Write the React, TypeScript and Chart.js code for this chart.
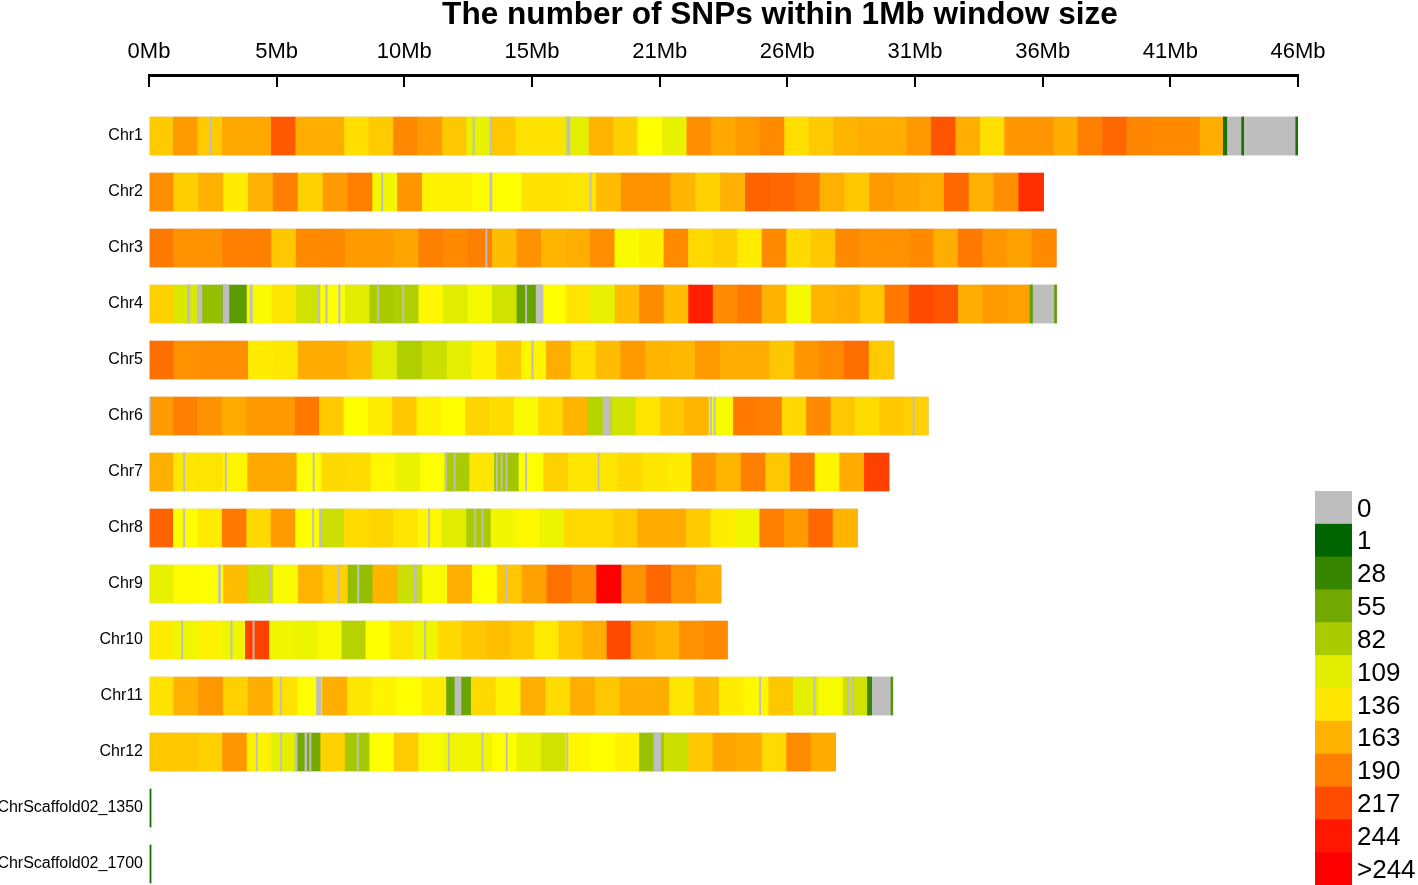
import React, { useEffect, useRef } from 'react';
import { Chart, registerables } from 'chart.js';

Chart.register(...registerables);

const TITLE = 'The number of SNPs within 1Mb window size';

const CHR_NAMES = [
  'Chr1', 'Chr2', 'Chr3', 'Chr4', 'Chr5', 'Chr6', 'Chr7', 'Chr8', 'Chr9', 'Chr10', 'Chr11', 'Chr12',
  'ChrScaffold02_1350', 'ChrScaffold02_1700',
];

// chromosome lengths (Mb)
const CHR_LENGTHS_MB = [46.3, 36.05, 36.56, 36.57, 30.02, 31.4, 29.82, 28.55, 23.05, 23.31, 29.97, 27.67, 0.08, 0.08];

// SNP count per window (bins span the chromosome evenly)
const CHR1_COUNTS = [150, 175, 150, 168, 168, 210, 165, 165, 140, 150, 185, 175, 152, 112, 152, 138, 138, 110, 162, 148, 123, 112, 182, 168, 175, 184, 140, 150, 162, 165, 165, 177, 212, 165, 140, 178, 178, 167, 189, 202, 186, 184, 184, 165, 0, 0, 0];
const CHR2_COUNTS = [182, 148, 164, 133, 164, 189, 147, 175, 189, 117, 178, 130, 130, 125, 122, 138, 138, 136, 158, 180, 180, 161, 147, 164, 205, 202, 193, 164, 152, 175, 170, 165, 202, 164, 182, 232];
const CHR3_COUNTS = [193, 180, 180, 189, 189, 152, 184, 184, 175, 175, 170, 190, 184, 190, 158, 180, 162, 166, 182, 120, 131, 184, 143, 148, 133, 184, 143, 152, 184, 180, 180, 184, 166, 193, 178, 172, 184];
const CHR4_COUNTS = [147, 105, 72, 45, 120, 136, 100, 122, 108, 82, 85, 127, 108, 118, 100, 50, 123, 137, 112, 158, 183, 158, 240, 183, 193, 163, 118, 162, 165, 152, 193, 218, 212, 165, 175, 172, 0];
const CHR5_COUNTS = [198, 180, 182, 182, 133, 135, 167, 167, 158, 108, 85, 98, 110, 130, 150, 128, 165, 140, 158, 175, 162, 160, 175, 166, 166, 152, 178, 184, 198, 150];
const CHR6_COUNTS = [175, 190, 180, 167, 176, 176, 193, 150, 123, 133, 152, 130, 123, 145, 141, 119, 143, 162, 88, 100, 136, 152, 162, 120, 193, 189, 143, 184, 152, 141, 152, 147];
const CHR7_COUNTS = [164, 136, 137, 128, 168, 168, 122, 143, 141, 127, 113, 122, 82, 136, 78, 122, 147, 136, 136, 143, 136, 133, 178, 162, 189, 152, 193, 128, 167, 222];
const CHR8_COUNTS = [205, 122, 134, 193, 143, 175, 122, 98, 141, 145, 136, 127, 108, 82, 116, 127, 114, 143, 143, 150, 167, 167, 150, 133, 116, 190, 175, 202, 162];
const CHR9_COUNTS = [112, 125, 122, 158, 98, 119, 162, 147, 72, 162, 98, 119, 165, 123, 152, 172, 197, 183, 256, 180, 202, 180, 165];
const CHR10_COUNTS = [133, 116, 130, 116, 222, 116, 114, 119, 88, 123, 136, 116, 143, 152, 157, 150, 134, 152, 165, 218, 170, 162, 180, 184];
const CHR11_COUNTS = [138, 164, 177, 147, 166, 138, 122, 165, 136, 129, 123, 133, 52, 143, 130, 165, 141, 165, 152, 165, 165, 136, 158, 133, 127, 152, 110, 119, 100, 0];
const CHR12_COUNTS = [152, 152, 147, 178, 130, 110, 55, 147, 80, 123, 150, 119, 116, 116, 123, 112, 100, 127, 123, 130, 75, 98, 152, 170, 167, 143, 183, 167];
const SCAFFOLD1350_COUNTS = [10];
const SCAFFOLD1700_COUNTS = [10];

const CHR_COUNTS = [
  CHR1_COUNTS, CHR2_COUNTS, CHR3_COUNTS, CHR4_COUNTS, CHR5_COUNTS, CHR6_COUNTS, CHR7_COUNTS,
  CHR8_COUNTS, CHR9_COUNTS, CHR10_COUNTS, CHR11_COUNTS, CHR12_COUNTS, SCAFFOLD1350_COUNTS, SCAFFOLD1700_COUNTS,
];

// isolated SNPs inside empty windows
const MARK_CHR = [0, 0, 0, 3, 3, 10, 10];
const MARK_START_MB = [43.29, 44.03, 46.21, 35.5, 36.49, 28.95, 29.9];
const MARK_WIDTH_MB = [0.14, 0.08, 0.09, 0.1, 0.08, 0.17, 0.07];
const MARK_COUNTS = [12, 12, 12, 48, 48, 28, 40];

// stretches without SNPs (grey background shows through)
const GAP_CHR = [
  0, 0, 0, 0,
  1, 1, 1,
  2,
  3, 3, 3, 3, 3, 3, 3, 3, 3, 3, 3,
  4,
  5, 5, 5, 5, 5,
  6, 6, 6, 6, 6, 6, 6, 6, 6, 6,
  7, 7, 7, 7, 7, 7,
  8, 8, 8, 8, 8, 8,
  9, 9, 9, 9,
  10, 10, 10, 10, 10, 10, 10,
  11, 11, 11, 11, 11, 11, 11, 11, 11, 11, 11,
];
const GAP_START_MB = [
  2.47, 13.06, 13.74, 16.84,
  9.37, 13.74, 17.77,
  13.57,
  1.55, 1.98, 2.98, 4.08, 6.81, 7.12, 7.64, 9.2, 10.22, 15.17, 15.6,
  15.42,
  0.0, 18.3, 22.62, 22.77, 30.79,
  1.39, 3.07, 6.61, 11.94, 12.29, 14.0, 14.18, 14.38, 15.17, 18.09,
  1.39, 6.59, 6.87, 11.26, 13.12, 13.41,
  2.8, 4.88, 7.62, 8.4, 10.69, 14.37,
  1.31, 3.3, 4.19, 11.1,
  5.3, 6.75, 12.33, 24.6, 26.79, 28.15, 28.35,
  4.32, 5.3, 5.89, 6.28, 6.47, 8.39, 12.06, 13.41, 14.39, 16.83, 20.34,
];
const GAP_WIDTH_MB = [
  0.05, 0.05, 0.05, 0.12,
  0.05, 0.08, 0.05,
  0.05,
  0.1, 0.15, 0.24, 0.08, 0.06, 0.06, 0.06, 0.05, 0.05, 0.05, 0.28,
  0.06,
  0.06, 0.28, 0.05, 0.05, 0.05,
  0.05, 0.05, 0.05, 0.05, 0.05, 0.05, 0.05, 0.05, 0.05, 0.05,
  0.05, 0.05, 0.1, 0.05, 0.05, 0.05,
  0.08, 0.05, 0.05, 0.06, 0.08, 0.05,
  0.05, 0.05, 0.05, 0.05,
  0.05, 0.19, 0.24, 0.05, 0.05, 0.05, 0.05,
  0.05, 0.05, 0.08, 0.08, 0.06, 0.05, 0.05, 0.05, 0.05, 0.05, 0.29,
];

const X_MAX_MB = 46.3;
const X_TICKS_MB = [0, 5.144, 10.289, 15.433, 20.578, 25.722, 30.867, 36.011, 41.156, 46.3];

const LEGEND_LABELS = ['0', '1', '28', '55', '82', '109', '136', '163', '190', '217', '244', '>244'];
const LEGEND_VALUES = [0, 1, 28, 55, 82, 109, 136, 163, 190, 217, 244, 256];

const GRAY = '#BEBEBE';
const FONT = '"Liberation Sans", Arial, Helvetica, sans-serif';

function snpColor(v: number): string {
  if (!v || v <= 0) return GRAY;
  const Y = 123;
  const R = 256;
  let r: number;
  let g: number;
  if (v <= Y) {
    const t = Math.max(0, (v - 1) / (Y - 1));
    r = 255 * t;
    g = 100 + 155 * t;
  } else {
    const s = Math.min(1, (v - Y) / (R - Y));
    r = 255;
    g = 255 * (1 - s);
  }
  return `rgb(${Math.round(r)},${Math.round(g)},0)`;
}

const titlePlugin = {
  id: 'snpTitle',
  afterDraw(chart: any) {
    const { ctx } = chart;
    ctx.save();
    ctx.font = `bold 31.6px ${FONT}`;
    ctx.fillStyle = '#000';
    ctx.textAlign = 'center';
    ctx.textBaseline = 'alphabetic';
    ctx.fillText(TITLE, 780, 24);
    ctx.restore();
  },
};

const legendPlugin = {
  id: 'snpLegend',
  afterDraw(chart: any) {
    const { ctx, chartArea } = chart;
    const x0 = chartArea.right + 17;
    const top = 491;
    const h = 32.83;
    ctx.save();
    LEGEND_VALUES.forEach((v, i) => {
      ctx.fillStyle = snpColor(v);
      ctx.fillRect(x0, top + i * h, 37, h + 0.6);
    });
    ctx.fillStyle = '#000';
    ctx.font = `26px ${FONT}`;
    ctx.textAlign = 'left';
    ctx.textBaseline = 'middle';
    LEGEND_LABELS.forEach((lab, i) => {
      ctx.fillText(lab, x0 + 42, top + i * h + h / 2 + 2);
    });
    ctx.restore();
  },
};

export default function App() {
  const canvasRef = useRef<HTMLCanvasElement | null>(null);

  useEffect(() => {
    const canvas = canvasRef.current;
    if (!canvas) return;

    const bodyData = CHR_NAMES.map((_, i) => ({ x: [0, CHR_LENGTHS_MB[i]], y: i, v: 0 }));
    const binData: any[] = [];
    CHR_COUNTS.forEach((counts, i) => {
      const w = CHR_LENGTHS_MB[i] / counts.length;
      counts.forEach((v, k) => {
        binData.push({ x: [k * w, (k + 1) * w], y: i, v });
      });
    });
    const gapData = GAP_CHR.map((c, j) => ({
      x: [GAP_START_MB[j], GAP_START_MB[j] + GAP_WIDTH_MB[j]],
      y: c,
      v: 0,
    }));
    const markData = MARK_CHR.map((c, j) => ({
      x: [MARK_START_MB[j], MARK_START_MB[j] + MARK_WIDTH_MB[j]],
      y: c,
      v: MARK_COUNTS[j],
    }));

    const colorFn = (ctx: any) => snpColor(ctx.raw ? ctx.raw.v : 0);

    const chart = new Chart(canvas, {
      type: 'bar',
      data: {
        datasets: [
          { label: 'marks', data: markData as any, backgroundColor: colorFn, order: 0 },
          { label: 'gaps', data: gapData as any, backgroundColor: GRAY, order: 1 },
          { label: 'bins', data: binData as any, backgroundColor: colorFn, order: 2 },
          { label: 'body', data: bodyData as any, backgroundColor: GRAY, order: 3 },
        ],
      },
      options: {
        indexAxis: 'y',
        animation: false,
        responsive: false,
        maintainAspectRatio: false,
        datasets: {
          bar: { grouped: false, barThickness: 38, borderWidth: 0 },
        },
        layout: { padding: { left: 0, right: 120, top: 0, bottom: 0 } },
        plugins: {
          legend: { display: false },
          tooltip: { enabled: false },
          title: { display: false },
        },
        scales: {
          x: {
            type: 'linear',
            position: 'top',
            min: 0,
            max: X_MAX_MB,
            offset: false,
            afterBuildTicks: (s: any) => {
              s.ticks = X_TICKS_MB.map((v) => ({ value: v }));
            },
            afterFit: (s: any) => {
              s.height = 75;
            },
            ticks: {
              autoSkip: false,
              maxRotation: 0,
              color: '#000',
              padding: 22,
              font: { family: FONT, size: 22 },
              callback: (v: any) => `${Math.round(Number(v))}Mb`,
            },
            grid: {
              display: true,
              drawOnChartArea: false,
              drawTicks: true,
              tickLength: -12,
              color: '#000',
              lineWidth: 2,
              tickColor: '#000',
              tickWidth: 2,
            },
            border: { display: true, color: '#000', width: 3 },
          },
          y: {
            type: 'linear',
            reverse: true,
            offset: false,
            grace: 0,
            min: -1.0893,
            max: 13.375,
            afterBuildTicks: (s: any) => {
              s.ticks = CHR_NAMES.map((_, i) => ({ value: i }));
            },
            afterFit: (s: any) => {
              s.width = 149;
              s.paddingTop = 0;
              s.paddingBottom = 0;
            },
            ticks: {
              autoSkip: false,
              color: '#000',
              padding: 6,
              font: { family: FONT, size: 16 },
              callback: (v: any) => CHR_NAMES[Number(v)] ?? '',
            },
            grid: { display: false, drawTicks: false, offset: false },
            border: { display: false },
          },
        },
      } as any,
      plugins: [titlePlugin, legendPlugin],
    });

    return () => {
      chart.destroy();
    };
  }, []);

  return (
    <div
      style={{
        position: 'fixed',
        left: 0,
        top: 0,
        width: 1418,
        height: 885,
        background: '#fff',
        overflow: 'hidden',
      }}
    >
      <canvas ref={canvasRef} width={1418} height={885} style={{ display: 'block', width: 1418, height: 885 }} />
    </div>
  );
}
